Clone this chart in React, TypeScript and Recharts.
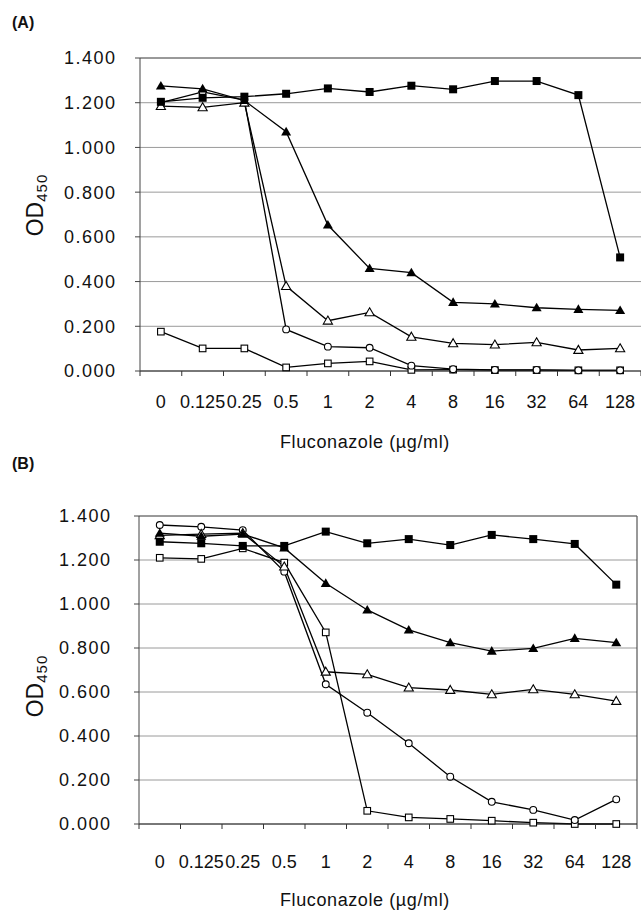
import React from 'react';
import { LineChart, Line, XAxis, YAxis, CartesianGrid, ReferenceLine } from 'recharts';

const FONT = '"Liberation Sans", Arial, Helvetica, sans-serif';

// fluconazole concentrations (µg/ml), one category each
const concentrations = ['0', '0.125', '0.25', '0.5', '1', '2', '4', '8', '16', '32', '64', '128'];
const odTicks = [0, 0.2, 0.4, 0.6, 0.8, 1.0, 1.2, 1.4];

// panel A, OD450
const aFilledSquare = [1.204, 1.222, 1.227, 1.240, 1.264, 1.248, 1.276, 1.260, 1.297, 1.297, 1.234, 0.508];
const aFilledTriangle = [1.275, 1.262, 1.210, 1.070, 0.653, 0.459, 0.440, 0.307, 0.300, 0.283, 0.276, 0.271];
const aOpenTriangle = [1.185, 1.179, 1.200, 0.380, 0.225, 0.262, 0.153, 0.124, 0.118, 0.128, 0.094, 0.101];
const aOpenCircle = [1.200, 1.248, 1.212, 0.186, 0.109, 0.104, 0.024, 0.008, 0.005, 0.005, 0.003, 0.003];
const aOpenSquare = [0.176, 0.101, 0.101, 0.016, 0.034, 0.043, 0.005, 0.006, 0.004, 0.004, 0.003, 0.003];

// panel B, OD450
const bFilledSquare = [1.283, 1.276, 1.264, 1.264, 1.329, 1.276, 1.295, 1.268, 1.314, 1.295, 1.273, 1.088];
const bFilledTriangle = [1.322, 1.308, 1.318, 1.255, 1.094, 0.973, 0.882, 0.824, 0.786, 0.798, 0.844, 0.824];
const bOpenTriangle = [1.312, 1.318, 1.322, 1.170, 0.692, 0.680, 0.620, 0.609, 0.589, 0.612, 0.589, 0.559];
const bOpenCircle = [1.359, 1.351, 1.336, 1.147, 0.635, 0.506, 0.367, 0.215, 0.101, 0.064, 0.018, 0.112];
const bOpenSquare = [1.210, 1.205, 1.253, 1.188, 0.871, 0.060, 0.030, 0.023, 0.015, 0.006, 0.000, 0.000];

type Shape = 'sqFill' | 'sqOpen' | 'triFill' | 'triOpen' | 'circle';

const seriesDefs: { key: string; shape: Shape }[] = [
  { key: 'openSquare', shape: 'sqOpen' },
  { key: 'openCircle', shape: 'circle' },
  { key: 'openTriangle', shape: 'triOpen' },
  { key: 'filledTriangle', shape: 'triFill' },
  { key: 'filledSquare', shape: 'sqFill' },
];

const buildRows = (fSq: number[], fTri: number[], oTri: number[], oCirc: number[], oSq: number[]) =>
  concentrations.map((c, i) => ({
    i,
    conc: c,
    filledSquare: fSq[i],
    filledTriangle: fTri[i],
    openTriangle: oTri[i],
    openCircle: oCirc[i],
    openSquare: oSq[i],
  }));

const rowsA = buildRows(aFilledSquare, aFilledTriangle, aOpenTriangle, aOpenCircle, aOpenSquare);
const rowsB = buildRows(bFilledSquare, bFilledTriangle, bOpenTriangle, bOpenCircle, bOpenSquare);

// labels sit on category centres, tick marks between categories
const xTicks = concentrations.flatMap((_, i) => [i - 0.5, i]).concat([concentrations.length - 0.5]);

const renderDot = (shape: Shape) => (props: any) => {
  const { cx, cy, index } = props;
  const key = `${shape}-${index}`;
  if (cx == null || cy == null) return <g key={key} />;
  switch (shape) {
    case 'sqFill':
      return <rect key={key} x={cx - 4} y={cy - 4} width={8} height={8} fill="#000" />;
    case 'sqOpen':
      return <rect key={key} x={cx - 3.3} y={cy - 3.3} width={6.6} height={6.6} fill="#fff" stroke="#000" strokeWidth={1.1} />;
    case 'triFill':
      return <polygon key={key} points={`${cx},${cy - 5} ${cx + 5},${cy + 3.6} ${cx - 5},${cy + 3.6}`} fill="#000" />;
    case 'triOpen':
      return <polygon key={key} points={`${cx},${cy - 4.6} ${cx + 4.6},${cy + 3.4} ${cx - 4.6},${cy + 3.4}`} fill="#fff" stroke="#000" strokeWidth={1.1} />;
    default:
      return <circle key={key} cx={cx} cy={cy} r={3.4} fill="#fff" stroke="#000" strokeWidth={1.1} />;
  }
};

const XTick = (props: any) => {
  const { x, y, payload, gap } = props;
  const v = payload.value;
  if (Number.isInteger(v)) {
    return (
      <text x={x} y={y} dy="0.71em" textAnchor="middle" fontSize={18} fontFamily={FONT} fill="#111">
        {concentrations[v]}
      </text>
    );
  }
  return <line x1={x} x2={x} y1={y - gap} y2={y - gap + 5} stroke="#333" strokeWidth={1} />;
};

const OdLabel = ({ cy }: { cy: number }) => (
  <text transform={`translate(43, ${cy}) rotate(-90)`} textAnchor="middle" fontSize={23} fontFamily={FONT} fill="#111">
    OD
    <tspan fontSize={15} dy={4} letterSpacing={1}>
      450
    </tspan>
  </text>
);

interface PanelProps {
  rows: any[];
  height: number;
  margin: { top: number; right: number; bottom: number; left: number };
  xGap: number;
  yGap: number;
  odY: number;
  rightBorder?: boolean;
}

const Panel: React.FC<PanelProps> = ({ rows, height, margin, xGap, yGap, odY, rightBorder }) => (
  <LineChart width={641} height={height} data={rows} margin={margin}>
    <CartesianGrid vertical={false} stroke="#9a9a9a" />
    <XAxis
      dataKey="i"
      type="number"
      domain={[-0.5, concentrations.length - 0.5]}
      ticks={xTicks}
      interval={0}
      tickLine={false}
      tickSize={0}
      tickMargin={xGap}
      height={40}
      axisLine={{ stroke: '#222' }}
      tick={<XTick gap={xGap} />}
    />
    <YAxis
      type="number"
      domain={[0, 1.4]}
      ticks={odTicks}
      interval={0}
      width={80}
      tickSize={5}
      tickMargin={yGap}
      tickFormatter={(v: number) => v.toFixed(3)}
      axisLine={{ stroke: '#444' }}
      tickLine={{ stroke: '#444' }}
      tick={{ fontSize: 18, fill: '#111', fontFamily: FONT, letterSpacing: 1.5 }}
      label={<OdLabel cy={odY} />}
    />
    {rightBorder && <ReferenceLine x={concentrations.length - 0.5} stroke="#333" />}
    <ReferenceLine y={1.4} stroke="#666" />
    {seriesDefs.map((s) => (
      <Line
        key={s.key}
        type="linear"
        dataKey={s.key}
        stroke="#000"
        strokeWidth={1.3}
        dot={renderDot(s.shape)}
        activeDot={false}
        isAnimationActive={false}
      />
    ))}
  </LineChart>
);

const textStyle: React.CSSProperties = {
  position: 'absolute',
  fontFamily: FONT,
  color: '#111',
  whiteSpace: 'nowrap',
};

export default function App() {
  return (
    <div style={{ position: 'absolute', left: 0, top: 0, width: 641, height: 911, background: '#fff', overflow: 'hidden' }}>
      <div style={{ ...textStyle, left: 12, top: 15, fontSize: 16, fontWeight: 700, lineHeight: '16px' }}>(A)</div>
      <div style={{ position: 'absolute', left: 0, top: 0 }}>
        <Panel
          rows={rowsA}
          height={460}
          margin={{ top: 58, right: 0, bottom: 49, left: 60 }}
          xGap={24}
          yGap={18.5}
          odY={205}
        />
      </div>
      <div style={{ ...textStyle, left: 280, top: 433, fontSize: 18, lineHeight: '18px', letterSpacing: 0.6 }}>
        Fluconazole (µg/ml)
      </div>

      <div style={{ ...textStyle, left: 12, top: 456, fontSize: 16, fontWeight: 700, lineHeight: '16px' }}>(B)</div>
      <div style={{ position: 'absolute', left: 0, top: 460 }}>
        <Panel
          rows={rowsB}
          height={451}
          margin={{ top: 56, right: 4, bottom: 47, left: 59 }}
          xGap={31}
          yGap={22.5}
          odY={226}
          rightBorder
        />
      </div>
      <div style={{ ...textStyle, left: 280, top: 891, fontSize: 18, lineHeight: '18px', letterSpacing: 0.6 }}>
        Fluconazole (µg/ml)
      </div>
    </div>
  );
}
